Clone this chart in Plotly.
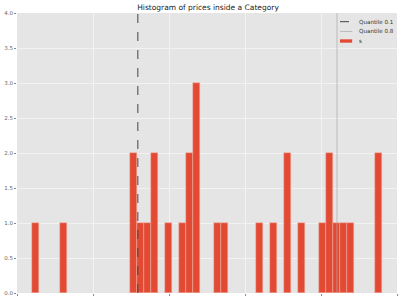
import plotly.graph_objects as go

# Histogram data (50 bins between min and max price)
price_min = 20.0
price_max = 480.0
n_bins = 50
bin_index = [0, 4, 14, 15, 16, 17, 19, 21, 22, 23, 26, 27, 32, 34, 36, 38, 41, 42, 43, 44, 45, 49]
bin_count = [1, 1, 2, 1, 1, 2, 1, 1, 2, 3, 1, 1, 1, 1, 2, 1, 1, 2, 1, 1, 1, 2]
quantile_01 = 159.0
quantile_08 = 421.0
y_ticks = [0.0, 0.5, 1.0, 1.5, 2.0, 2.5, 3.0, 3.5, 4.0]
legend_names = ["Quantile 0.1", "Quantile 0.8", "s"]

bw = (price_max - price_min) / n_bins
centers = [price_min + bw * (i + 0.5) for i in bin_index]

RED = "#E24A33"
Q1_COLOR = "#444444"
Q8_COLOR = "#aaaaaa"

fig = go.Figure()
fig.add_trace(go.Scatter(x=[quantile_01, quantile_01], y=[0, 4], mode="lines",
                         name=legend_names[0], showlegend=False,
                         line=dict(color=Q1_COLOR, width=1, dash="dash")))
fig.add_trace(go.Scatter(x=[quantile_08, quantile_08], y=[0, 4], mode="lines",
                         name=legend_names[1], showlegend=False,
                         line=dict(color=Q8_COLOR, width=0.7)))
fig.add_trace(go.Bar(x=centers, y=bin_count, width=bw, name=legend_names[2],
                     showlegend=False,
                     marker=dict(color=RED, line=dict(color="#f3b4a6", width=0.5))))

# compact legend drawn in paper coordinates (matplotlib-like spacing)
leg_rows_y = [0.969, 0.934, 0.900]
x0, x1, xt = 0.85, 0.882, 0.894
fig.add_shape(type="line", xref="paper", yref="paper", x0=x0, x1=x1,
              y0=leg_rows_y[0], y1=leg_rows_y[0],
              line=dict(color=Q1_COLOR, width=1, dash="dash"))
fig.add_shape(type="line", xref="paper", yref="paper", x0=x0, x1=x1,
              y0=leg_rows_y[1], y1=leg_rows_y[1],
              line=dict(color=Q8_COLOR, width=0.7))
fig.add_shape(type="rect", xref="paper", yref="paper", x0=x0, x1=x1,
              y0=leg_rows_y[2] - 0.006, y1=leg_rows_y[2] + 0.006,
              fillcolor=RED, line=dict(width=0))
for name, yy in zip(legend_names, leg_rows_y):
    fig.add_annotation(xref="paper", yref="paper", x=xt, y=yy, text=name,
                       showarrow=False, xanchor="left", yanchor="middle",
                       font=dict(size=5.6, color="#333333"))

fig.update_layout(
    width=400, height=299,
    margin=dict(l=17, r=3, t=13, b=4),
    paper_bgcolor="white",
    plot_bgcolor="#E5E5E5",
    font=dict(family="DejaVu Sans", size=6, color="#555555"),
    title=dict(text="Histogram of prices inside a Category", x=0.52, xanchor="center",
               y=0.985, yanchor="top", font=dict(size=7.5, color="#222222")),
    bargap=0,
    showlegend=False,
    xaxis=dict(range=[0, 500], dtick=100, showticklabels=False, showgrid=True,
               gridcolor="#f2f2f2", gridwidth=0.6, zeroline=False, ticks="outside",
               ticklen=2, tickcolor="#888888"),
    yaxis=dict(range=[0, 4], tickvals=y_ticks, ticktext=[f"{v:.1f}" for v in y_ticks],
               showgrid=True, gridcolor="#f2f2f2", gridwidth=0.6, zeroline=False,
               ticks="outside", ticklen=2, tickcolor="#888888",
               tickfont=dict(size=5.5, color="#666666")),
)

fig.write_html("out.html")
